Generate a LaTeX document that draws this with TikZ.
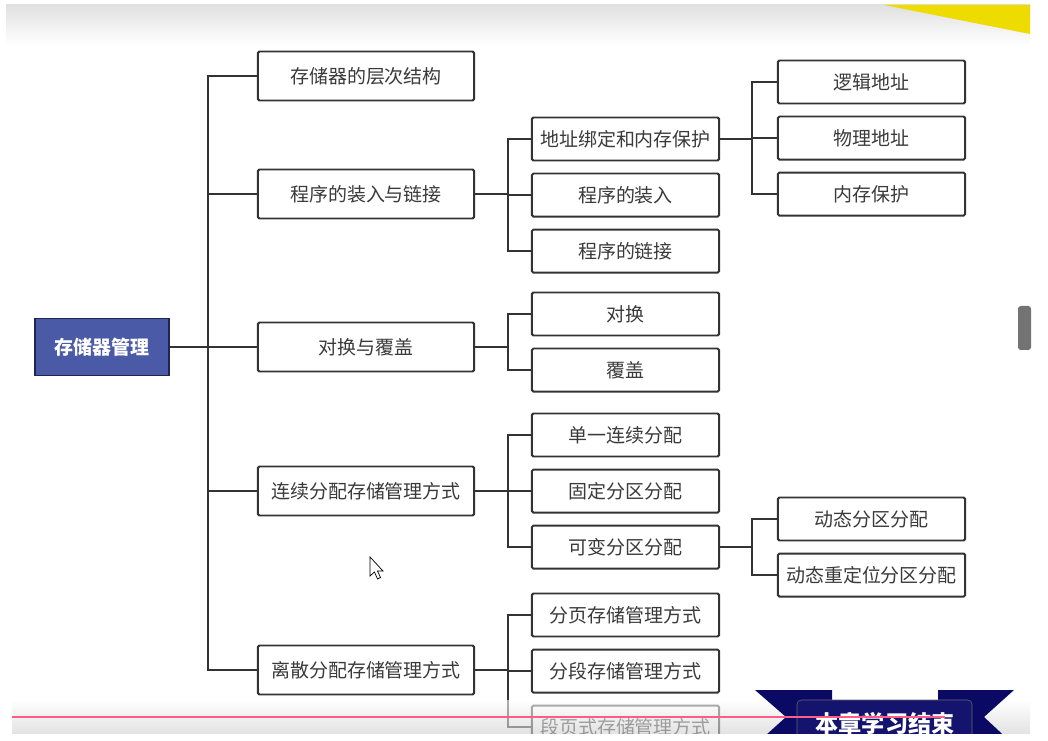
\documentclass[tikz,border=0pt]{standalone}
\usepackage{fontspec}
\newfontfamily\cjk{Noto Sans CJK SC}
\usetikzlibrary{positioning}
\definecolor{boxline}{HTML}{333333}
\definecolor{txt}{HTML}{3A3A3A}
\definecolor{rootblue}{HTML}{4A5AA6}
\definecolor{rootedge}{HTML}{1E2552}
\definecolor{navy}{HTML}{0A0A64}
\definecolor{navyin}{HTML}{14146E}
\definecolor{flag}{HTML}{EEDC00}
\definecolor{bar}{HTML}{FF5C8A}

\begin{document}
\begin{tikzpicture}[x=0.025cm, y=-0.025cm, node distance=0.276cm,
   font=\cjk\fontsize{13.5}{16}\selectfont,
   lvone/.style={rectangle, rounded corners=1pt, draw=boxline, line width=1.4pt,
     fill=white, text=txt, minimum width=5.4cm, minimum height=1.225cm, inner sep=2pt},
   lvtwo/.style={rectangle, rounded corners=1pt, draw=boxline, line width=1.4pt,
     fill=white, text=txt, minimum width=4.675cm, minimum height=1.075cm, inner sep=2pt},
   rootbox/.style={rectangle, draw=rootedge, line width=1.4pt, fill=rootblue,
     text=white, font=\cjk\bfseries\fontsize{13.5}{16}\selectfont,
     minimum width=3.35cm, minimum height=1.425cm},
   ln/.style={draw=boxline, line width=1.4pt}]
 \useasboundingbox (0,0) rectangle (1048,741);
 \fill[white] (0,0) rectangle (1048,741);
 % slide header
 \shade[top color=black!12, bottom color=white] (6,5) rectangle (1030,45);
 \fill[flag] (884,5) -- (1030,5) -- (1030,34) -- cycle;
 \begin{scope}
 \clip (0,0) rectangle (1048,733);
 % tree
 \node[rootbox] (mem) at (102,347) {存储器管理};
 \node[lvone] (hier) at (366,76) {存储器的层次结构};
 \node[lvone] (load) at (366,194) {程序的装入与链接};
 \node[lvone] (swap) at (366,347) {对换与覆盖};
 \node[lvone] (cont) at (366,491) {连续分配存储管理方式};
 \node[lvone] (disc) at (366,670) {离散分配存储管理方式};
 \node[lvtwo] (bind) at (625.5,139) {地址绑定和内存保护};
 \node[lvtwo, below=of bind] (ldin) {程序的装入};
 \node[lvtwo, below=of ldin] (link) {程序的链接};
 \node[lvtwo] (swp) at (625.5,314) {对换};
 \node[lvtwo, below=of swp] (ovl) {覆盖};
 \node[lvtwo] (single) at (625.5,435) {单一连续分配};
 \node[lvtwo, below=of single] (fixed) {固定分区分配};
 \node[lvtwo, below=of fixed] (var) {可变分区分配};
 \node[lvtwo] (page) at (625.5,615) {分页存储管理方式};
 \node[lvtwo, below=of page] (seg) {分段存储管理方式};
 \node[lvtwo, below=of seg] (segpg) {段页式存储管理方式};
 \node[lvtwo] (logic) at (871.5,82) {逻辑地址};
 \node[lvtwo, below=of logic] (phys) {物理地址};
 \node[lvtwo, below=of phys] (prot) {内存保护};
 \node[lvtwo] (dyn) at (871.5,519) {动态分区分配};
 \node[lvtwo, below=of dyn] (reloc) {动态重定位分区分配};
 \draw[ln] (mem.east) -- ++(38,0) |- (hier.west); \draw[ln] (mem.east) -- ++(38,0) |- (load.west);
 \draw[ln] (mem.east) -- ++(38,0) |- (swap.west); \draw[ln] (mem.east) -- ++(38,0) |- (cont.west);
 \draw[ln] (mem.east) -- ++(38,0) |- (disc.west);
 \draw[ln] (load.east) -- ++(33,0) |- (bind.west); \draw[ln] (load.east) -- ++(33,0) |- (ldin.west);
 \draw[ln] (load.east) -- ++(33,0) |- (link.west);
 \draw[ln] (swap.east) -- ++(33,0) |- (swp.west); \draw[ln] (swap.east) -- ++(33,0) |- (ovl.west);
 \draw[ln] (cont.east) -- ++(33,0) |- (single.west); \draw[ln] (cont.east) -- ++(33,0) |- (fixed.west);
 \draw[ln] (cont.east) -- ++(33,0) |- (var.west);
 \draw[ln] (disc.east) -- ++(33,0) |- (page.west); \draw[ln] (disc.east) -- ++(33,0) |- (seg.west);
 \draw[ln] (disc.east) -- ++(33,0) |- (segpg.west);
 \draw[ln] (bind.east) -- ++(32,0) |- (logic.west); \draw[ln] (bind.east) -- ++(32,0) |- (phys.west);
 \draw[ln] (bind.east) -- ++(32,0) |- (prot.west);
 \draw[ln] (var.east) -- ++(32,0) |- (dyn.west); \draw[ln] (var.east) -- ++(32,0) |- (reloc.west);
 % player bar
 \shade[top color=white, bottom color=black!18, opacity=0.6] (12,700) rectangle (1030,733);
 % ribbon
 \fill[navy] (755,690) -- (832,690) -- (832,745) -- (755,745) -- (786,717) -- cycle;
 \fill[navy] (1014,690) -- (938,690) -- (938,745) -- (1014,745) -- (984,717) -- cycle;
 \fill[navyin, draw=black!60, rounded corners=3pt] (797,700) rectangle (972,750);
 \node[text=white, font=\cjk\bfseries\fontsize{16.5}{18}\selectfont] (done) at (885,724) {本章学习结束};
 \draw[bar, line width=1.2pt] (12,717) -- (945,717);
 \end{scope}
 % side tab and pointer
 \fill[black!55, rounded corners=2pt] (1018,306) rectangle (1031,350);
 \filldraw[fill=white, draw=black, line width=0.5pt] (370,557) -- (370,576) -- (374.5,572) -- (377.5,579) -- (380.5,577.5) -- (377.5,571) -- (383,571) -- cycle;
\end{tikzpicture}
\end{document}
